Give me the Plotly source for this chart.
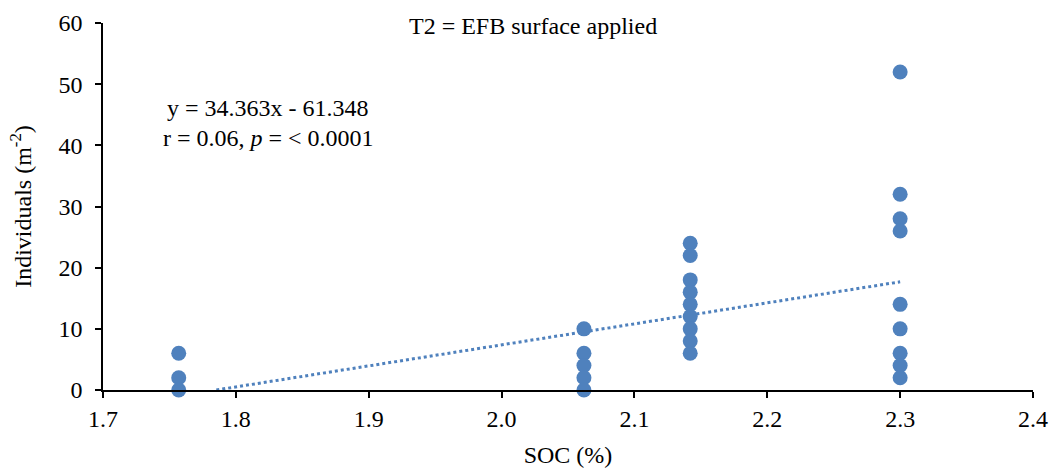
import plotly.graph_objects as go

# Data
soc = [1.757, 1.757, 1.757,
       2.062, 2.062, 2.062, 2.062, 2.062,
       2.142, 2.142, 2.142, 2.142, 2.142, 2.142, 2.142, 2.142, 2.142,
       2.300, 2.300, 2.300, 2.300, 2.300, 2.300, 2.300, 2.300, 2.300]
individuals = [6, 2, 0,
               10, 6, 4, 2, 0,
               24, 22, 18, 16, 14, 12, 10, 8, 6,
               52, 32, 28, 26, 14, 10, 6, 4, 2]
slope = 34.363
intercept = -61.348
x_ticks = [1.7, 1.8, 1.9, 2.0, 2.1, 2.2, 2.3, 2.4]
y_ticks = [0, 10, 20, 30, 40, 50, 60]

BLUE = "#4F81BD"
FONT = "Liberation Serif"
FS = 24

# Trendline across data range, clipped at y = 0
x_start = max(min(soc), -intercept / slope)
x_end = max(soc)
trend_x = [x_start, x_end]
trend_y = [slope * v + intercept for v in trend_x]

fig = go.Figure()
fig.add_trace(go.Scatter(
    x=trend_x, y=trend_y, mode="lines",
    line=dict(color=BLUE, width=3, dash="dot"),
    hoverinfo="skip", showlegend=False, cliponaxis=False))
fig.add_trace(go.Scatter(
    x=soc, y=individuals, mode="markers",
    marker=dict(color=BLUE, size=15, line=dict(width=0)),
    showlegend=False, cliponaxis=False))

fig.update_layout(
    width=1049, height=470,
    margin=dict(l=103, r=16, t=23, b=80),
    paper_bgcolor="white", plot_bgcolor="white",
    font=dict(family=FONT, size=FS, color="black"),
    xaxis=dict(range=[1.7, 2.4], tickvals=x_ticks, tickformat=".1f",
               showgrid=False, zeroline=False, showline=True, automargin=False,
               linecolor="black", linewidth=1.5, ticks="outside",
               ticklen=6, tickwidth=1.5, tickcolor="black",
               tickfont=dict(size=FS),
               title=dict(text="SOC (%)", font=dict(size=FS), standoff=16)),
    yaxis=dict(range=[0, 60], tickvals=y_ticks,
               showgrid=False, zeroline=False, showline=True, automargin=False,
               linecolor="black", linewidth=1.5, ticks="outside",
               ticklen=6, tickwidth=1.5, tickcolor="black",
               tickfont=dict(size=FS), ticklabelstandoff=8,
               title=dict(text="Individuals (m<sup>-2</sup>)", font=dict(size=FS), standoff=20)),
    annotations=[
        dict(text="T2 = EFB surface applied", xref="paper", yref="paper",
             x=(533 - 103) / 930, y=(390 - 26) / 367, showarrow=False, font=dict(size=FS),
             xanchor="center", yanchor="middle"),
        dict(text="y = 34.363x - 61.348", xref="paper", yref="paper",
             x=(268 - 103) / 930, y=(390 - 108) / 367, showarrow=False,
             font=dict(size=FS), xanchor="center", yanchor="middle"),
        dict(text="r = 0.06, <i>p</i> = < 0.0001", xref="paper", yref="paper",
             x=(268 - 103) / 930, y=(390 - 138) / 367, showarrow=False,
             font=dict(size=FS), xanchor="center", yanchor="middle"),
    ],
)

fig.write_html("out.html")
